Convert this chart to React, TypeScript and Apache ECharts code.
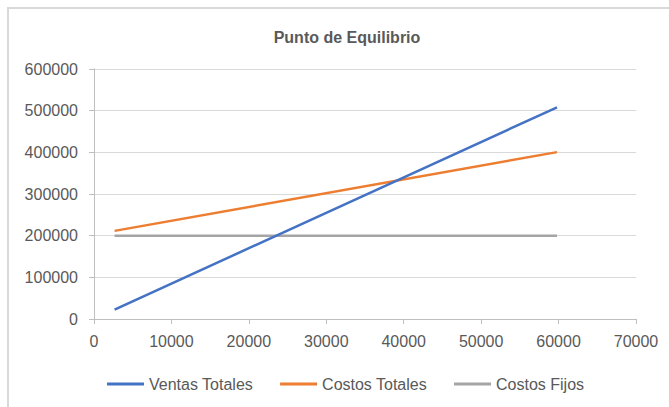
import React, { useEffect, useRef } from "react";
import * as echarts from "echarts";

const unidades = [2660, 59800];
const ventasTotales = [22600, 508000];
const costosTotales = [211500, 400500];
const costosFijos = [200000, 200000];
const seriesNames = ["Ventas Totales", "Costos Totales", "Costos Fijos"];
const seriesColors = ["#4472C4", "#ED7D31", "#A5A5A5"];
const titleText = "Punto de Equilibrio";

export default function App() {
  const ref = useRef<HTMLDivElement>(null);
  useEffect(() => {
    document.body.style.margin = "0";
    const chart = echarts.init(ref.current!, null, { renderer: "svg" });
    const font = "Liberation Sans, Arial, sans-serif";
    const mk = (vals: number[]) => unidades.map((x, i) => [x, vals[i]]);
    const lineSeries = (vals: number[], i: number) => ({
      name: seriesNames[i],
      type: "line",
      data: mk(vals),
      showSymbol: false,
      lineStyle: { color: seriesColors[i], width: 2.5 },
      itemStyle: { color: seriesColors[i] },
      z: 4 - i,
    });
    chart.setOption({
      animation: false,
      backgroundColor: "#ffffff",
      textStyle: { fontFamily: font },
      title: {
        text: titleText,
        left: 342,
        top: 24,
        textAlign: "center",
        textStyle: { fontSize: 16, fontWeight: "bold", color: "#595959", fontFamily: font },
      },
      graphic: [
        {
          type: "polyline",
          shape: { points: [[8, 420], [8, 8], [680, 8]] },
          style: { stroke: "#D9D9D9", lineWidth: 2, fill: "none" },
          silent: true,
        },
      ],
      legend: {
        left: 102,
        top: 371,
        itemWidth: 37,
        itemHeight: 3,
        itemGap: 27,
        textStyle: { fontSize: 16, color: "#595959", fontFamily: font },
        data: seriesNames.map((n) => ({ name: n, icon: "rect" })),
      },
      grid: { left: 94, right: 33, top: 69, bottom: 88 },
      xAxis: {
        type: "value",
        min: 0,
        max: 70000,
        interval: 10000,
        axisLine: { show: true, lineStyle: { color: "#BFBFBF", width: 1 } },
        axisTick: { show: true, length: 5, lineStyle: { color: "#BFBFBF" } },
        splitLine: { show: false },
        axisLabel: {
          margin: 14,
          fontSize: 16,
          color: "#595959",
          fontFamily: font,
          formatter: (v: number) => String(v),
        },
      },
      yAxis: {
        type: "value",
        min: 0,
        max: 600000,
        interval: 100000,
        axisLine: { show: true, lineStyle: { color: "#BFBFBF", width: 1 } },
        axisTick: { show: true, length: 5, lineStyle: { color: "#BFBFBF" } },
        splitLine: { show: true, lineStyle: { color: "#D9D9D9", width: 1 } },
        axisLabel: {
          margin: 16,
          fontSize: 16,
          color: "#595959",
          fontFamily: font,
          formatter: (v: number) => String(v),
        },
      },
      series: [
        lineSeries(ventasTotales, 0),
        lineSeries(costosTotales, 1),
        lineSeries(costosFijos, 2),
      ],
    });
    return () => chart.dispose();
  }, []);
  return <div ref={ref} style={{ width: 669, height: 407 }} />;
}
